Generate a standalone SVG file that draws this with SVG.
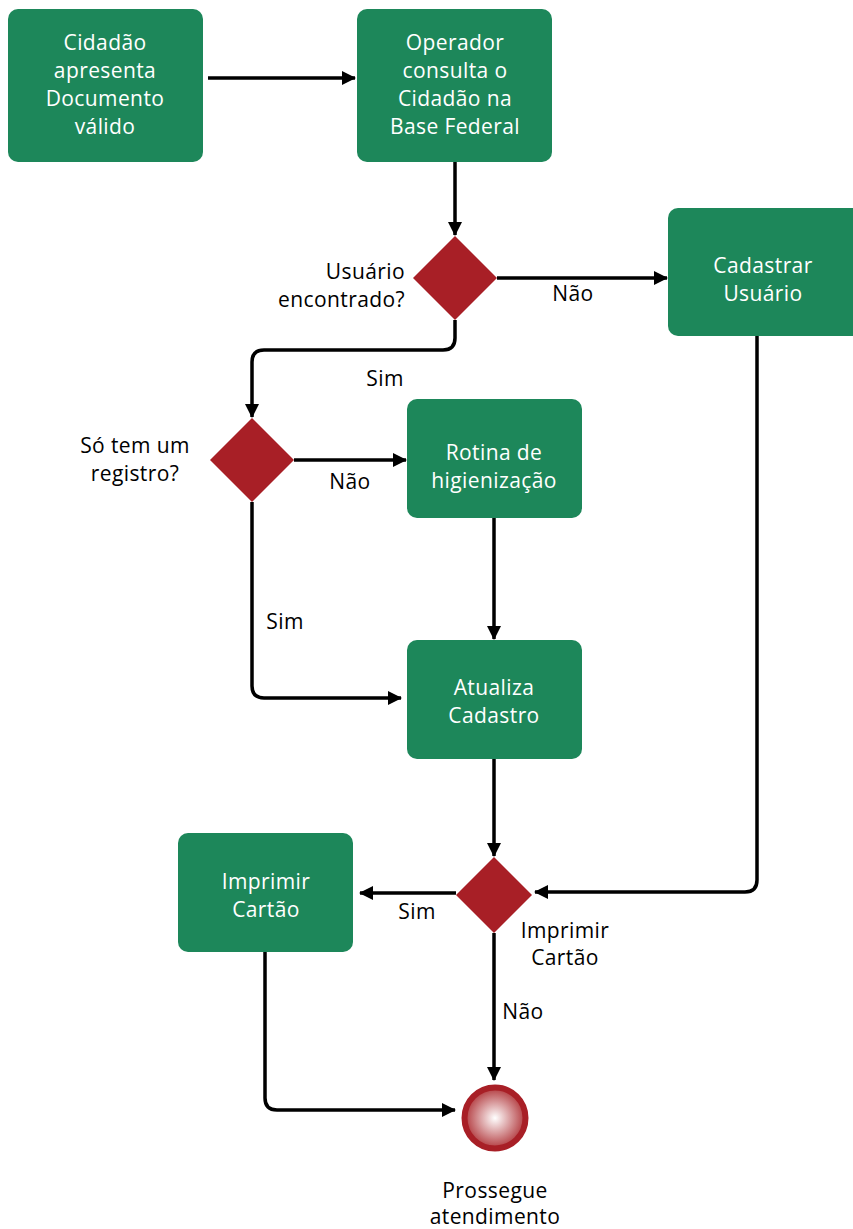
<svg xmlns="http://www.w3.org/2000/svg" width="853" height="1229" viewBox="0 0 853 1229">
<style>
.box{fill:#1d875a}
.dia{fill:#a81f26}
.bt{fill:#fff;font-family:"Open Sans","Noto Sans",sans-serif;font-size:21px;letter-spacing:0.4px;text-anchor:middle}
.lb{fill:#000;font-family:"Open Sans","Noto Sans",sans-serif;font-size:21px;letter-spacing:0.4px}
.c{text-anchor:middle}
.r{text-anchor:end}
.ln{fill:none;stroke:#000;stroke-width:3.5}
</style>
<defs>
<marker id="ahb" markerWidth="14" markerHeight="14" refX="13" refY="7" orient="auto" markerUnits="userSpaceOnUse" viewBox="0 0 14 14">
<path d="M0,0 L14,7 L0,14 Z" fill="#000"/>
</marker>
<radialGradient id="rg" cx="0.5" cy="0.5" r="0.5">
<stop offset="0" stop-color="#fff"/>
<stop offset="1" stop-color="#b23a3e"/>
</radialGradient>
</defs>
<g id="connectors">
<path class="ln" d="M208,78 H355" marker-end="url(#ahb)"/>
<path class="ln" d="M455,162 V235" marker-end="url(#ahb)"/>
<path class="ln" d="M497,278 H667" marker-end="url(#ahb)"/>
<path class="ln" d="M455,320 V338 Q455,350 443,350 H264 Q252,350 252,362 V417" marker-end="url(#ahb)"/>
<path class="ln" d="M294,460 H406" marker-end="url(#ahb)"/>
<path class="ln" d="M494,518 V639" marker-end="url(#ahb)"/>
<path class="ln" d="M252,502 V686 Q252,698 264,698 H401" marker-end="url(#ahb)"/>
<path class="ln" d="M494,759 V856" marker-end="url(#ahb)"/>
<path class="ln" d="M757,336 V880 Q757,892 745,892 H535" marker-end="url(#ahb)"/>
<path class="ln" d="M456,893 H360" marker-end="url(#ahb)"/>
<path class="ln" d="M494,933 V1080" marker-end="url(#ahb)"/>
<path class="ln" d="M265,952 V1098 Q265,1110 277,1110 H455" marker-end="url(#ahb)"/>
<text class="lb c" x="573" y="301">Não</text>
<text class="lb c" x="385" y="386">Sim</text>
<text class="lb c" x="350" y="489">Não</text>
<text class="lb c" x="285" y="629">Sim</text>
<text class="lb c" x="417" y="919">Sim</text>
<text class="lb c" x="523" y="1019">Não</text>
</g>
<g id="n1"><rect class="box" x="8" y="9" width="195" height="153" rx="10"/>
<text class="bt" x="105" y="50">Cidadão</text><text class="bt" x="105" y="78">apresenta</text><text class="bt" x="105" y="106">Documento</text><text class="bt" x="105" y="134">válido</text></g>
<g id="n2"><rect class="box" x="357" y="9" width="195" height="153" rx="10"/>
<text class="bt" x="455" y="50">Operador</text><text class="bt" x="455" y="78">consulta o</text><text class="bt" x="455" y="106">Cidadão na</text><text class="bt" x="455" y="134">Base Federal</text></g>
<g id="d1"><polygon class="dia" points="455,236 497,278 455,320 413,278"/>
<text class="lb r" x="405" y="279">Usuário</text><text class="lb r" x="405" y="307">encontrado?</text></g>
<g id="n3"><rect class="box" x="668" y="208" width="200" height="128" rx="10"/>
<text class="bt" x="763" y="273">Cadastrar</text><text class="bt" x="763" y="301">Usuário</text></g>
<g id="d2"><polygon class="dia" points="252,418 294,460 252,502 210,460"/>
<text class="lb c" x="135" y="453">Só tem um</text><text class="lb c" x="135" y="481">registro?</text></g>
<g id="n4"><rect class="box" x="407" y="399" width="175" height="119" rx="10"/>
<text class="bt" x="494" y="460">Rotina de</text><text class="bt" x="494" y="488">higienização</text></g>
<g id="n5"><rect class="box" x="407" y="640" width="175" height="119" rx="10"/>
<text class="bt" x="494" y="695">Atualiza</text><text class="bt" x="494" y="723">Cadastro</text></g>
<g id="d3"><polygon class="dia" points="494,857 532,895 494,933 456,895"/>
<text class="lb c" x="565" y="938">Imprimir</text><text class="lb c" x="565" y="965">Cartão</text></g>
<g id="n6"><rect class="box" x="178" y="833" width="175" height="119" rx="10"/>
<text class="bt" x="266" y="889">Imprimir</text><text class="bt" x="266" y="917">Cartão</text></g>
<g id="end"><circle cx="495" cy="1118" r="30.5" fill="url(#rg)" stroke="#a81f26" stroke-width="6"/>
<text class="lb c" x="495" y="1198">Prossegue</text><text class="lb c" x="495" y="1224">atendimento</text></g>
</svg>
